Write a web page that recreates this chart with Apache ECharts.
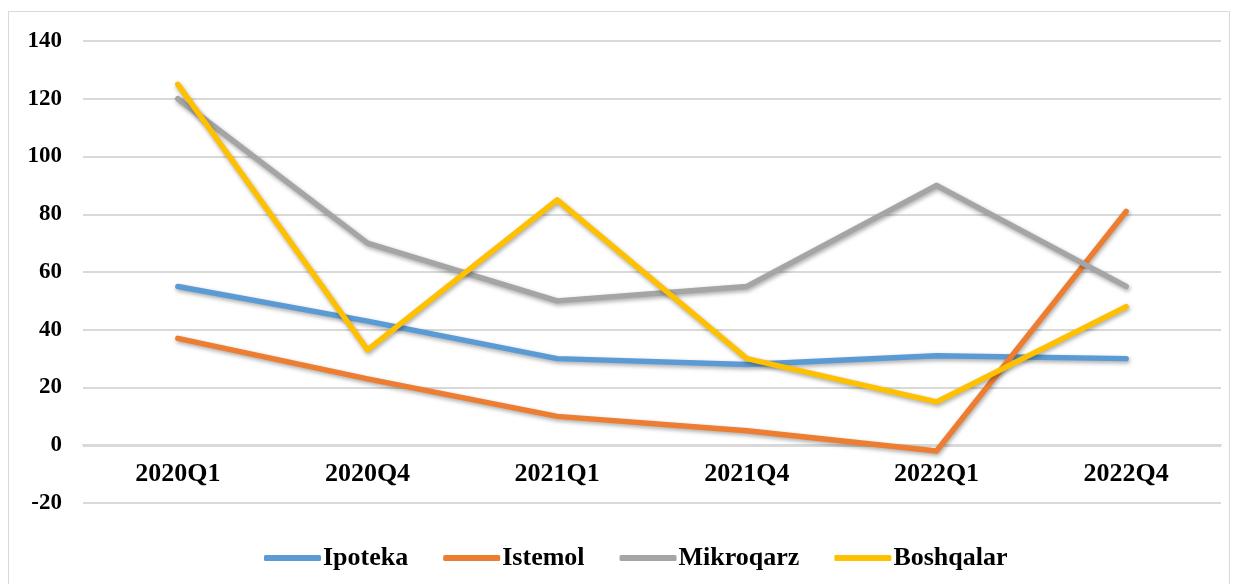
<!DOCTYPE html>
<html>
<head>
<meta charset="utf-8">
<script src="https://cdn.jsdelivr.net/npm/echarts@6/dist/echarts.min.js"></script>
<style>
  html, body { margin: 0; padding: 0; background: #fff; }
  #frame { position: absolute; left: 8px; top: 11px; width: 1222px; height: 580px; border: 1px solid #d9d9d9; box-sizing: border-box; }
  #lineChart { position: absolute; left: 0; top: 0; width: 1238px; height: 584px; }
</style>
</head>
<body>
<div id="frame"></div>
<div id="lineChart"></div>
<script>
var categories = ['2020Q1', '2020Q4', '2021Q1', '2021Q4', '2022Q1', '2022Q4'];
var ipoteka = [55, 43, 30, 28, 31, 30];
var istemol = [37, 23, 10, 5, -2, 81];
var mikroqarz = [120, 70, 50, 55, 90, 55];
var boshqalar = [125, 33, 85, 30, 15, 48];
var seriesNames = ['Ipoteka', 'Istemol', 'Mikroqarz', 'Boshqalar'];
var seriesColors = ['#5B9BD5', '#ED7D31', '#A5A5A5', '#FFC000'];

var fontFamily = '"Liberation Serif", "Times New Roman", serif';

function makeSeries(name, data, color) {
  return {
    name: name,
    type: 'line',
    data: data,
    symbol: 'none',
    smooth: false,
    lineStyle: {
      width: 5.5,
      color: color,
      cap: 'round',
      join: 'round',
      shadowColor: 'rgba(0,0,0,0.35)',
      shadowBlur: 4,
      shadowOffsetX: 1,
      shadowOffsetY: 2
    },
    itemStyle: { color: color },
    emphasis: { disabled: true }
  };
}

var lineChart = echarts.init(document.getElementById('lineChart'));
var option = {
  animation: false,
  grid: { left: 83, right: 17, top: 41, bottom: 81 },
  legend: {
    top: 540,
    left: 259,
    itemWidth: 57,
    itemHeight: 6,
    itemGap: 35,
    textStyle: { fontFamily: fontFamily, fontWeight: 'bold', fontSize: 26, color: '#000', padding: [0, 0, 0, -3] },
    data: seriesNames.map(function (n, i) {
      return { name: n, icon: 'roundRect', itemStyle: { color: seriesColors[i] } };
    })
  },
  xAxis: {
    type: 'category',
    data: categories,
    boundaryGap: true,
    offset: -58,
    axisLine: { onZero: false, lineStyle: { color: '#d9d9d9', width: 2 } },
    axisTick: { show: false },
    axisLabel: { margin: 16, fontFamily: fontFamily, fontWeight: 'bold', fontSize: 26, color: '#000' }
  },
  yAxis: {
    type: 'value',
    min: -20,
    max: 140,
    interval: 20,
    axisLine: { show: false },
    axisTick: { show: false },
    splitLine: { lineStyle: { color: '#d9d9d9', width: 2 } },
    axisLabel: { margin: 21, fontFamily: fontFamily, fontWeight: 'bold', fontSize: 23, color: '#000' }
  },
  series: [
    makeSeries(seriesNames[0], ipoteka, seriesColors[0]),
    makeSeries(seriesNames[1], istemol, seriesColors[1]),
    makeSeries(seriesNames[2], mikroqarz, seriesColors[2]),
    makeSeries(seriesNames[3], boshqalar, seriesColors[3])
  ]
};
lineChart.setOption(option);
window.onresize = lineChart.resize;
</script>
</body>
</html>
